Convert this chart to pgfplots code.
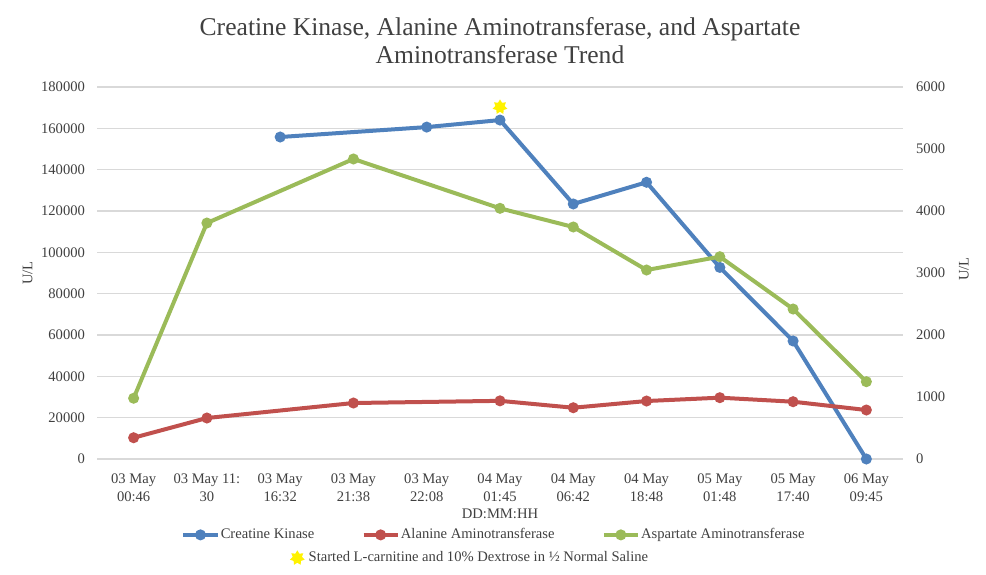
\documentclass[border=0pt]{standalone}
\usepackage{pgfplots}
\pgfplotsset{compat=1.18}
\usepackage{fontspec}
\setmainfont{Liberation Serif}

\definecolor{ckblue}{HTML}{4F81BD}
\definecolor{altred}{HTML}{C0504D}
\definecolor{astgreen}{HTML}{9BBB59}
\definecolor{gridgray}{HTML}{D9D9D9}
\definecolor{txtgray}{HTML}{404040}

\newcommand\tickfont{\fontsize{7.3}{9}\selectfont}
\newcommand\titlefont{\fontsize{12.8}{14}\selectfont}

% seven-pointed burst used for the treatment marker
\pgfdeclareplotmark{burst}{%
  \pgfpathmoveto{\pgfpointpolar{90}{\pgfplotmarksize}}%
  \pgfpathlineto{\pgfpointpolar{115.714}{0.62\pgfplotmarksize}}%
  \pgfpathlineto{\pgfpointpolar{141.429}{\pgfplotmarksize}}%
  \pgfpathlineto{\pgfpointpolar{167.143}{0.62\pgfplotmarksize}}%
  \pgfpathlineto{\pgfpointpolar{192.857}{\pgfplotmarksize}}%
  \pgfpathlineto{\pgfpointpolar{218.571}{0.62\pgfplotmarksize}}%
  \pgfpathlineto{\pgfpointpolar{244.286}{\pgfplotmarksize}}%
  \pgfpathlineto{\pgfpointpolar{270}{0.62\pgfplotmarksize}}%
  \pgfpathlineto{\pgfpointpolar{295.714}{\pgfplotmarksize}}%
  \pgfpathlineto{\pgfpointpolar{321.429}{0.62\pgfplotmarksize}}%
  \pgfpathlineto{\pgfpointpolar{347.143}{\pgfplotmarksize}}%
  \pgfpathlineto{\pgfpointpolar{12.857}{0.62\pgfplotmarksize}}%
  \pgfpathlineto{\pgfpointpolar{38.571}{\pgfplotmarksize}}%
  \pgfpathlineto{\pgfpointpolar{64.286}{0.62\pgfplotmarksize}}%
  \pgfpathclose
  \pgfusepathqfill
}

\pgfplotsset{
  common/.style={
    at={(48.5pt,57.5pt)}, anchor=south west,
    scale only axis, width=403pt, height=186pt,
    xmin=-0.5, xmax=10.5, ymin=0,
    major tick length=0pt,
    tick label style={font=\tickfont, text=txtgray},
    label style={font=\tickfont, text=txtgray},
    /pgf/number format/assume math mode=true,
    scaled y ticks=false,
    yticklabel style={/pgf/number format/fixed,
      /pgf/number format/set thousands separator={}},
    clip=false,
  },
  series/.style={color=#1, line width=2pt, mark=*, mark size=1.7pt,
    mark options={fill=#1, draw=#1}},
}

\begin{document}
\begin{tikzpicture}
\useasboundingbox (0,0) rectangle (493pt,287pt);

% left scale: creatine kinase
\begin{axis}[
  common,
  ymax=180000,
  ytick={0,20000,...,180000},
  yticklabel style={xshift=-2.5pt},
  ymajorgrids,
  grid style={gridgray, line width=0.6pt},
  axis line style={draw=none},
  xtick={0,...,10},
  xticklabel style={align=center, yshift=-4pt},
  xticklabels={{03 May\\00:46},{03 May 11:\\30},{03 May\\16:32},{03 May\\21:38},
    {03 May\\22:08},{04 May\\01:45},{04 May\\06:42},{04 May\\18:48},
    {05 May\\01:48},{05 May\\17:40},{06 May\\09:45}},
  xlabel={DD:MM:HH},
  xlabel style={at={(axis description cs:0.5,-0.148)}, anchor=center},
  ylabel={U/L},
  ylabel style={yshift=-2.5pt},
  title={Creatine Kinase, Alanine Aminotransferase, and Aspartate\\Aminotransferase Trend},
  title style={font=\titlefont, text=txtgray, align=center,
    at={(axis description cs:0.5,1.092)}, anchor=center},
  legend style={at={(axis description cs:0.464,-0.266)}, anchor=center,
    draw=none, fill=none, font=\tickfont, text=txtgray},
]
\addplot[series=ckblue, forget plot] coordinates {
  (2,155800) (4,160600) (5,164000) (6,123400) (7,133900)
  (8,92700) (9,57100) (10,0)
};
\addplot[only marks, mark=burst, mark size=3.8pt, color=yellow,
  mark options={fill=yellow}] coordinates {(5,170300)};
\addlegendentry{Started L-carnitine and 10\% Dextrose in ½ Normal Saline}
\end{axis}

% right scale: transaminases
\begin{axis}[
  common,
  ymax=6000,
  ytick={0,1000,...,6000},
  yticklabel style={xshift=3pt},
  axis y line*=right,
  axis x line=none,
  y axis line style={draw=none},
  ylabel={U/L},
  ylabel style={xshift=2pt},
  legend style={at={(axis description cs:0.492,-0.204)}, anchor=center,
    draw=none, fill=none, font=\tickfont, text=txtgray,
    legend columns=3, nodes={inner sep=0.6pt},
    /tikz/every even column/.append style={column sep=23pt}},
]
\addlegendimage{series=ckblue}
\addlegendentry{Creatine Kinase}
\addplot[series=altred] coordinates {
  (0,343) (1,661) (3,903) (5,938) (6,827) (7,935)
  (8,989) (9,924) (10,790)
};
\addlegendentry{Alanine Aminotransferase}
\addplot[series=astgreen] coordinates {
  (0,980) (1,3806) (3,4839) (5,4043) (6,3742) (7,3048)
  (8,3263) (9,2419) (10,1247)
};
\addlegendentry{Aspartate Aminotransferase}
\end{axis}
\end{tikzpicture}
\end{document}
